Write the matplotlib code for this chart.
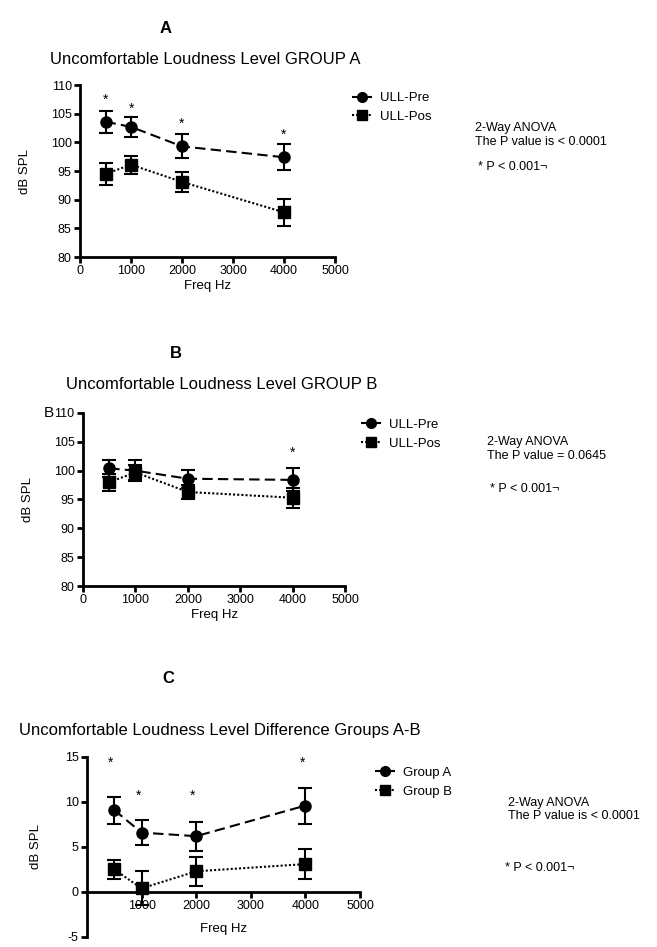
import matplotlib
matplotlib.use('Agg')
import matplotlib.pyplot as plt
from matplotlib.lines import Line2D
import numpy as np

plt.rcParams['font.family'] = ['Liberation Sans', 'DejaVu Sans']
plt.rcParams['axes.unicode_minus'] = False

freq = [500, 1000, 2000, 4000]

# Panel A - group A
a_pre = [103.6, 102.7, 99.3, 97.4]
a_pre_err = [1.9, 1.7, 2.1, 2.3]
a_pos = [94.5, 96.1, 93.1, 87.8]
a_pos_err = [1.9, 1.6, 1.8, 2.4]
a_star = [107.4, 105.9, 103.3, 101.3]

# Panel B - group B
b_pre = [100.4, 100.0, 98.6, 98.4]
b_pre_err = [1.5, 1.8, 1.6, 2.0]
b_pos = [98.0, 99.7, 96.3, 95.3]
b_pos_err = [1.5, 1.3, 1.3, 1.7]
b_star_x = [4000]
b_star = [103.1]

# Panel C - differences
c_ga = [9.1, 6.6, 6.2, 9.6]
c_ga_err = [1.5, 1.4, 1.6, 2.0]
c_gb = [2.5, 0.4, 2.3, 3.1]
c_gb_err = [1.1, 1.9, 1.6, 1.7]
c_star_x = [440, 940, 1940, 3940]
c_star = [14.4, 10.7, 10.7, 14.4]

xticks = [0, 1000, 2000, 3000, 4000, 5000]

DASH = (0, (5, 2.5))
DOT = (0, (1, 1))

fig = plt.figure(figsize=(6.57, 9.47), dpi=100)


def style(ax, ymin, ymax, ystep, ylabpad=14):
    ax.set_xlim(0, 5000)
    ax.set_ylim(ymin, ymax)
    ax.set_xticks(xticks)
    ax.set_yticks(np.arange(ymin, ymax + 0.1, ystep))
    for s in ['top', 'right']:
        ax.spines[s].set_visible(False)
    for s in ['left', 'bottom']:
        ax.spines[s].set_linewidth(2)
    ax.tick_params(width=2, length=4, labelsize=9, pad=2)
    ax.set_xlabel('Freq Hz', fontsize=9.5, labelpad=2)
    ax.set_ylabel('dB SPL', fontsize=9.5, labelpad=ylabpad)


def series(ax, y, err, ls, mk):
    ax.errorbar(freq, y, yerr=err, color='black', linestyle=ls, marker=mk,
                markersize=8, capsize=5, capthick=1.5, elinewidth=1.5,
                linewidth=1.5, clip_on=False)


def legend(ax, labels, x, y):
    handles = [Line2D([], [], color='black', linestyle=DASH, marker='o', markersize=7, linewidth=1.5),
               Line2D([], [], color='black', linestyle=DOT, marker='s', markersize=7, linewidth=1.5)]
    ax.legend(handles, labels, loc='center left', bbox_to_anchor=(x, y), bbox_transform=fig.transFigure,
              frameon=False, fontsize=9.5, handlelength=1.5, handletextpad=0.6, labelspacing=0.5,
              borderpad=0, borderaxespad=0)


# ---- A
ax1 = fig.add_axes([0.1218, 0.7286, 0.3881, 0.1816])
series(ax1, a_pre, a_pre_err, DASH, 'o')
series(ax1, a_pos, a_pos_err, DOT, 's')
for x, y in zip(freq, a_star):
    ax1.text(x, y, '*', ha='center', va='center', fontsize=10)
style(ax1, 80, 110, 5)
legend(ax1, ['ULL-Pre', 'ULL-Pos'], 0.5358, 0.8865)
fig.text(0.252, 0.970, 'A', ha='center', va='center', fontsize=12, fontweight='bold')
fig.text(0.313, 0.937, 'Uncomfortable Loudness Level GROUP A', ha='center', va='center', fontsize=12)
fig.text(0.723, 0.8574, '2-Way ANOVA\nThe P value is < 0.0001', ha='left', va='center', fontsize=9, linespacing=1.15)
fig.text(0.727, 0.8237, '* P < 0.001¬', ha='left', va='center', fontsize=9)

# ---- B
ax2 = fig.add_axes([0.1263, 0.3812, 0.3995, 0.1827])
series(ax2, b_pre, b_pre_err, DASH, 'o')
series(ax2, b_pos, b_pos_err, DOT, 's')
for x, y in zip(b_star_x, b_star):
    ax2.text(x, y, '*', ha='center', va='center', fontsize=10)
style(ax2, 80, 110, 5)
legend(ax2, ['ULL-Pre', 'ULL-Pos'], 0.5495, 0.5417)
fig.text(0.074, 0.564, 'B', ha='center', va='center', fontsize=11)
fig.text(0.267, 0.627, 'B', ha='center', va='center', fontsize=12, fontweight='bold')
fig.text(0.337, 0.594, 'Uncomfortable Loudness Level GROUP B', ha='center', va='center', fontsize=12)
fig.text(0.741, 0.5259, '2-Way ANOVA\nThe P value = 0.0645', ha='left', va='center', fontsize=9, linespacing=1.15)
fig.text(0.746, 0.4836, '* P < 0.001¬', ha='left', va='center', fontsize=9)

# ---- C
ax3 = fig.add_axes([0.1324, 0.01056, 0.4155, 0.1901])
series(ax3, c_ga, c_ga_err, DASH, 'o')
series(ax3, c_gb, c_gb_err, DOT, 's')
for x, y in zip(c_star_x, c_star):
    ax3.text(x, y, '*', ha='center', va='center', fontsize=10)
style(ax3, -5, 15, 5, ylabpad=16)
ax3.spines['bottom'].set_position(('data', 0))
ax3.set_xticks(xticks[1:])
ax3.xaxis.labelpad = 8
legend(ax3, ['Group A', 'Group B'], 0.5708, 0.1742)
fig.text(0.256, 0.284, 'C', ha='center', va='center', fontsize=12, fontweight='bold')
fig.text(0.335, 0.229, 'Uncomfortable Loudness Level Difference Groups A-B', ha='center', va='center', fontsize=12)
fig.text(0.773, 0.1452, '2-Way ANOVA\nThe P value is < 0.0001', ha='left', va='center', fontsize=9, linespacing=1.15)
fig.text(0.768, 0.0834, '* P < 0.001¬', ha='left', va='center', fontsize=9)

fig.savefig('out.png', dpi=100)
